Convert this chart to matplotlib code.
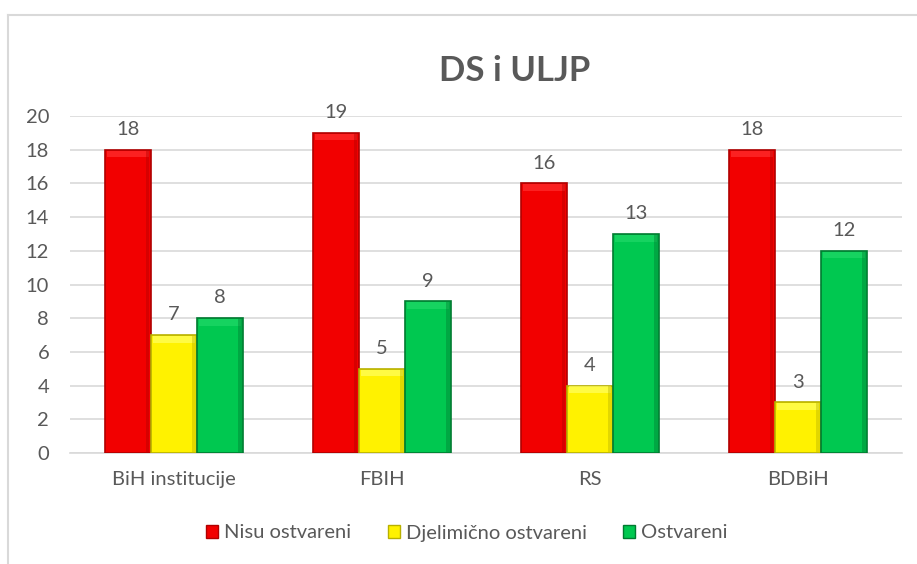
import matplotlib.pyplot as plt
import numpy as np
from matplotlib.patches import Rectangle
from matplotlib.lines import Line2D

plt.rcParams["font.family"] = ["Lato", "DejaVu Sans"]

categories = ["BiH institucije", "FBIH", "RS", "BDBiH"]
series_names = ["Nisu ostvareni", "Djelimično ostvareni", "Ostvareni"]
nisu = [18, 19, 16, 18]
djelimicno = [7, 5, 4, 3]
ostvareni = [8, 9, 13, 12]

fills = ["#F20000", "#FFF200", "#00C850"]
edges = ["#B00000", "#B8B000", "#007A30"]
tops = ["#FF3030", "#FFFF60", "#20D868"]

TEXT = "#595959"
FS = 14.5

fig = plt.figure(figsize=(9.17, 5.64), dpi=100)
# chart frame lines
fig.add_artist(Line2D([8 / 917, 1.0], [1 - 15 / 564] * 2, color="#D9D9D9", lw=1.5))
fig.add_artist(Line2D([8 / 917] * 2, [0, 1 - 15 / 564], color="#D9D9D9", lw=1.5))

ax = fig.add_axes([70 / 917, 1 - 453 / 564, 832 / 917, 337 / 564])
x = np.arange(len(categories))
w = 0.222
offsets = [-w, 0, w]

for vals, off, fc, ec, tc in zip([nisu, djelimicno, ostvareni], offsets, fills, edges, tops):
    ax.bar(x + off, vals, width=w, color=fc, edgecolor=ec, linewidth=1.2, zorder=3)
    for xi, v in zip(x + off, vals):
        # bevel highlight near the top and shade on the right side
        ax.add_patch(Rectangle((xi - w / 2 + 0.01, v - 0.45), w - 0.02, 0.4,
                               facecolor=tc, edgecolor="none", zorder=4, alpha=0.7))
        ax.add_patch(Rectangle((xi + w / 2 - 0.025, 0.05), 0.018, v - 0.1,
                               facecolor=ec, edgecolor="none", zorder=4, alpha=0.4))
        ax.text(xi, v + 0.7, str(v), ha="center", va="bottom", fontsize=FS, color=TEXT)

ax.set_xlim(-0.5, 3.5)
ax.set_ylim(0, 20)
ax.set_yticks(range(0, 21, 2))
ax.yaxis.grid(True, color="#D9D9D9", linewidth=1.2, zorder=0)
ax.set_axisbelow(True)
for s in ["top", "right", "left"]:
    ax.spines[s].set_visible(False)
ax.spines["bottom"].set_color("#D9D9D9")
ax.spines["bottom"].set_linewidth(1.2)
ax.tick_params(axis="both", length=0, labelsize=FS, labelcolor=TEXT)
ax.tick_params(axis="y", pad=15)
ax.tick_params(axis="x", pad=13)
ax.set_xticks(x)
ax.set_xticklabels(categories)

fig.text(515 / 917, 1 - 71 / 564, "DS i ULJP", ha="center", va="center",
         fontsize=25, fontweight="bold", color=TEXT)

handles = [Rectangle((0, 0), 1, 1, facecolor=fc, edgecolor=ec) for fc, ec in zip(fills, edges)]
fig.legend(handles, series_names, loc="center", bbox_to_anchor=(467 / 917, 1 - 533 / 564),
           ncol=3, frameon=False, fontsize=FS, labelcolor=TEXT, handlelength=0.6,
           handleheight=0.6, handletextpad=0.3, columnspacing=1.8)

fig.savefig("out.png", dpi=100)
